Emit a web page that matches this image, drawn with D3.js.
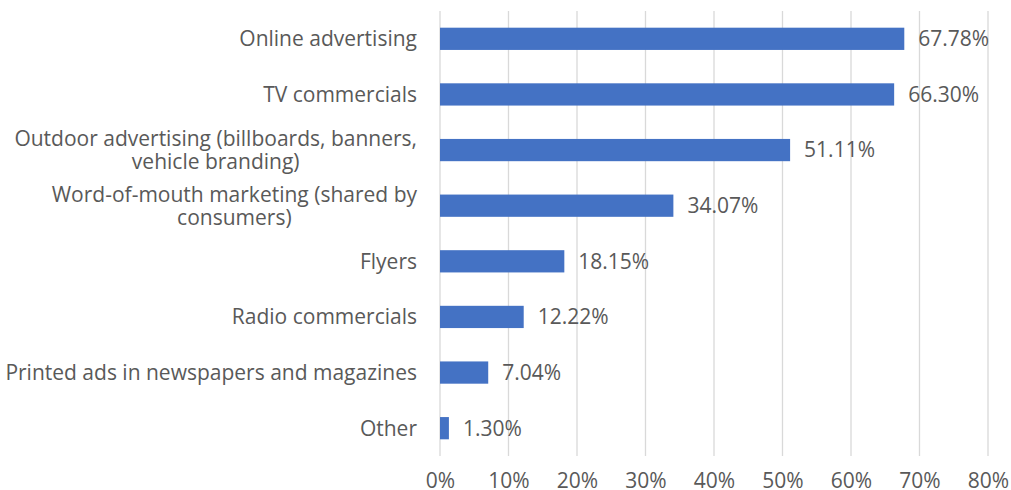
<!DOCTYPE html>
<html>
<head>
<meta charset="utf-8">
<script src="https://cdn.jsdelivr.net/npm/d3@7"></script>
<style>
  html, body { margin: 0; padding: 0; background: #ffffff; }
  svg { display: block; }
  text { font-family: "Open Sans", "Noto Sans", sans-serif; fill: #595959; }
</style>
</head>
<body>
<svg id="chart" width="1011" height="490"></svg>
<script>
// Advertising channels (multi-line labels split on "\n")
const categories = [
  "Online advertising",
  "TV commercials",
  "Outdoor advertising (billboards, banners,\nvehicle branding)",
  "Word-of-mouth marketing (shared by\nconsumers)",
  "Flyers",
  "Radio commercials",
  "Printed ads in newspapers and magazines",
  "Other"
];
const values = [67.78, 66.30, 51.11, 34.07, 18.15, 12.22, 7.04, 1.30];
const tickValues = [0, 10, 20, 30, 40, 50, 60, 70, 80];

const svg = d3.select("#chart");
const plot = { left: 440, right: 988, top: 11, bottom: 456 };
const fontSize = 21;

const x = d3.scaleLinear().domain([0, 80]).range([plot.left, plot.right]);
const y = d3.scaleBand()
  .domain(categories)
  .range([plot.top, plot.bottom])
  .paddingInner(0.6)
  .paddingOuter(0.3);

// vertical gridlines
svg.append("g")
  .selectAll("line")
  .data(tickValues)
  .join("line")
  .attr("x1", d => x(d)).attr("x2", d => x(d))
  .attr("y1", plot.top).attr("y2", plot.bottom)
  .attr("stroke", "#d9d9d9")
  .attr("stroke-width", 1.3);

// x axis tick labels
const xAxis = d3.axisBottom(x)
  .tickValues(tickValues)
  .tickFormat(d => d + "%")
  .tickSize(0)
  .tickPadding(0);
const gx = svg.append("g")
  .attr("transform", `translate(0, ${plot.bottom + 17})`)
  .call(xAxis);
gx.select(".domain").remove();
gx.selectAll("text")
  .attr("font-size", fontSize)
  .attr("font-family", null)
  .attr("fill", "#595959");

// bars
svg.append("g")
  .selectAll("rect")
  .data(categories)
  .join("rect")
  .attr("x", x(0))
  .attr("y", d => y(d))
  .attr("width", (d, i) => x(values[i]) - x(0))
  .attr("height", y.bandwidth())
  .attr("fill", "#4472c4");

// value labels
svg.append("g")
  .selectAll("text")
  .data(categories)
  .join("text")
  .attr("x", (d, i) => x(values[i]) + 14)
  .attr("y", d => y(d) + y.bandwidth() / 2)
  .attr("dy", "0.35em")
  .attr("font-size", fontSize)
  .text((d, i) => values[i].toFixed(2) + "%");

// category labels, wrapped lines centred on the widest line, right-aligned block
const labelRight = 417;
const lineH = 23;
const catG = svg.append("g");
categories.forEach(c => {
  const lines = c.split("\n");
  const cy = y(c) + y.bandwidth() / 2;
  const t = catG.append("text").attr("font-size", fontSize);
  lines.forEach((ln, k) => {
    t.append("tspan")
      .attr("y", cy + (k - (lines.length - 1) / 2) * lineH)
      .attr("dy", "0.35em")
      .text(ln);
  });
  const widths = [];
  t.selectAll("tspan").each(function () { widths.push(this.getComputedTextLength()); });
  const w = d3.max(widths);
  if (lines.length === 1) {
    t.attr("text-anchor", "end").selectAll("tspan").attr("x", labelRight);
  } else {
    t.attr("text-anchor", "middle").selectAll("tspan").attr("x", labelRight - w / 2);
  }
});
</script>
</body>
</html>
